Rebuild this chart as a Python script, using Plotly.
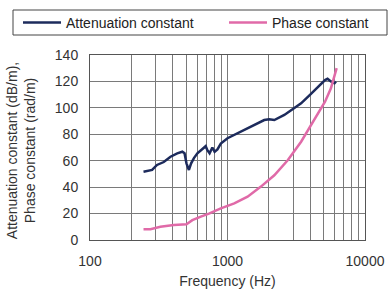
import plotly.graph_objects as go

att_freq = [245, 267, 283, 307, 344, 385, 431, 469, 487, 503, 524, 544, 570, 604, 640, 694, 714, 741, 776, 806, 845, 894, 1000, 1180, 1400, 1650, 1850, 2010, 2190, 2590, 3060, 3430, 3960, 4570, 5120, 5340, 5650, 6000, 6150]
att_vals = [51.7, 52.5, 53, 56.8, 59, 63, 65.6, 66.8, 65.6, 58, 53, 58, 62, 65.6, 68, 71, 68, 65.6, 70, 66.8, 68.6, 73, 77, 80.7, 84.5, 88, 90.8, 91.3, 90.8, 94.6, 99.6, 103.4, 109.7, 116, 121, 122, 120, 118.6, 120]

ph_freq = [245, 275, 325, 407, 503, 555, 640, 733, 894, 1120, 1400, 1750, 2190, 2750, 3430, 4290, 5120, 5650, 6220]
ph_vals = [8.1, 8.1, 10, 11.4, 11.9, 15, 17.7, 20, 24, 27.7, 32.8, 40.4, 49, 60.5, 74.4, 90.8, 104.7, 114.8, 130]

x_ticks = [100, 1000, 10000]
x_ticklabels = ["100", "1000", "10000"]
x_minor = [200, 300, 400, 500, 600, 700, 800, 900, 2000, 3000, 4000, 5000, 6000, 7000, 8000, 9000]
y_ticks = [0, 20, 40, 60, 80, 100, 120, 140]

FONT = "Liberation Sans, Arial, sans-serif"

fig = go.Figure()
fig.add_trace(go.Scatter(x=att_freq, y=att_vals, mode="lines", name="Attenuation constant",
                         line=dict(color="#1d2b5c", width=2.5), legend="legend"))
fig.add_trace(go.Scatter(x=ph_freq, y=ph_vals, mode="lines", name="Phase constant",
                         line=dict(color="#e06aa8", width=2.5), legend="legend2"))

leg_common = dict(xref="container", yref="container", xanchor="left", yanchor="top",
                  borderwidth=0, bgcolor="rgba(0,0,0,0)", itemwidth=38,
                  font=dict(size=14, color="#222222"))

fig.update_layout(
    width=390, height=295,
    margin=dict(l=90, r=25, t=55, b=55, autoexpand=False),
    paper_bgcolor="white", plot_bgcolor="white",
    font=dict(family=FONT, size=14, color="#333333"),
    showlegend=True,
    legend=dict(x=18 / 390, y=1 - 7 / 295, **leg_common),
    legend2=dict(x=224 / 390, y=1 - 7 / 295, **leg_common),
    shapes=[dict(type="rect", xref="paper", yref="paper",
                 x0=-77 / 275, x1=297 / 275, y0=1 + 20 / 185, y1=1 + 45 / 185,
                 line=dict(color="#444444", width=1), fillcolor="rgba(0,0,0,0)")],
    annotations=[dict(text="Attenuation constant (dB/m),<br>Phase constant (rad/m)",
                      xref="paper", yref="paper", x=-69 / 275, y=0.48,
                      xanchor="center", yanchor="middle", textangle=-90, showarrow=False,
                      font=dict(size=14, color="#333333"))],
)
fig.update_xaxes(type="log", range=[2, 4], tickvals=x_ticks, ticktext=x_ticklabels,
                 showgrid=True, gridcolor="#7a7a7a", gridwidth=1,
                 minor=dict(tickvals=x_minor, showgrid=True, gridcolor="#7a7a7a", gridwidth=1, ticklen=0),
                 showline=True, linecolor="#555555", linewidth=1, mirror=True,
                 ticks="", ticklabelstandoff=8,
                 title=dict(text="Frequency (Hz)", font=dict(size=14), standoff=8),
                 zeroline=False)
fig.update_yaxes(range=[0, 140], tickvals=y_ticks, showgrid=True, gridcolor="#7a7a7a", gridwidth=1,
                 showline=True, linecolor="#555555", linewidth=1, mirror=True,
                 ticks="", ticklabelstandoff=8,
                 zeroline=False)

fig.write_html("out.html", config={"displayModeBar": False},
               post_script="document.body.style.margin='0';document.body.style.overflow='hidden';")
